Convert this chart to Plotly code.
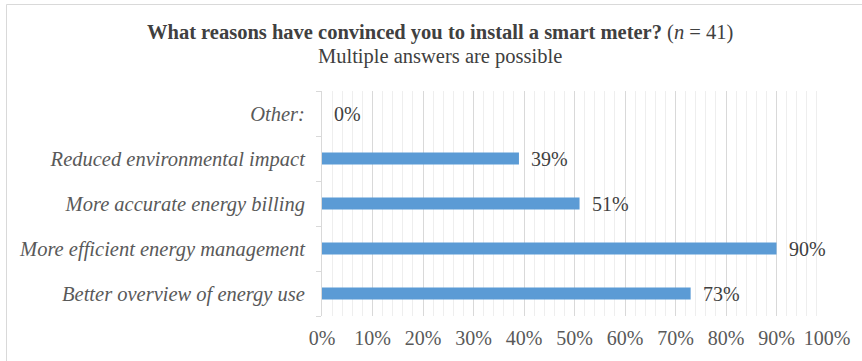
import plotly.graph_objects as go

# Survey answers (share of respondents, n = 41), bottom to top
categories = [
    "Better overview of energy use",
    "More efficient energy management",
    "More accurate energy billing",
    "Reduced environmental impact",
    "Other:",
]
shares = [0.73, 0.90, 0.51, 0.39, 0.0]
x_ticks = [i / 10 for i in range(11)]
x_tick_labels = [f"{i * 10}%" for i in range(11)]

FONT = "Times New Roman, Liberation Serif, serif"
BAR_COLOR = "#5B9BD5"
TEXT_COLOR = "#595959"

W, H = 862, 361
M_L, M_R, M_T, M_B = 322, 35, 91, 45
PW = W - M_L - M_R
PH = H - M_T - M_B


def px_to_paper_x(px):
    return (px - M_L) / PW


def px_to_paper_y(py):
    return (H - M_B - py) / PH


fig = go.Figure()
fig.add_trace(
    go.Bar(
        x=shares,
        y=categories,
        orientation="h",
        marker=dict(color=BAR_COLOR, line=dict(width=0)),
        width=0.27,
        hoverinfo="skip",
    )
)

# value labels to the right of each bar
for cat, val in zip(categories, shares):
    fig.add_annotation(
        x=val,
        y=cat,
        xref="x",
        yref="y",
        text=f"{val * 100:.0f}%",
        showarrow=False,
        xanchor="left",
        yanchor="middle",
        xshift=10,
        font=dict(family=FONT, size=20, color="#404040"),
    )

# chart heading
fig.add_annotation(
    x=px_to_paper_x(440),
    y=px_to_paper_y(32),
    xref="paper",
    yref="paper",
    text="<b>What reasons have convinced you to install a smart meter?</b> (<i>n</i> = 41)",
    showarrow=False,
    xanchor="center",
    yanchor="middle",
    font=dict(family=FONT, size=20.5, color="#404040"),
)
fig.add_annotation(
    x=px_to_paper_x(440),
    y=px_to_paper_y(56),
    xref="paper",
    yref="paper",
    text="Multiple answers are possible",
    showarrow=False,
    xanchor="center",
    yanchor="middle",
    font=dict(family=FONT, size=20.5, color="#404040"),
)

# outer chart frame
fig.add_shape(
    type="rect",
    xref="paper",
    yref="paper",
    x0=px_to_paper_x(6.5),
    x1=px_to_paper_x(W + 20),
    y0=px_to_paper_y(H + 20),
    y1=px_to_paper_y(4.5),
    line=dict(color="#d9d9d9", width=1),
    fillcolor="rgba(0,0,0,0)",
    layer="below",
)

fig.update_layout(
    width=W,
    height=H,
    margin=dict(l=M_L, r=M_R, t=M_T, b=M_B, autoexpand=False),
    paper_bgcolor="white",
    plot_bgcolor="white",
    showlegend=False,
    bargap=0.73,
    font=dict(family=FONT, color=TEXT_COLOR),
    xaxis=dict(
        range=[0, 1],
        tickvals=x_ticks,
        ticktext=x_tick_labels,
        tickfont=dict(family=FONT, size=20, color=TEXT_COLOR),
        showgrid=True,
        gridcolor="#d9d9d9",
        gridwidth=1,
        minor=dict(dtick=0.02, tick0=0, showgrid=True, gridcolor="#eeeeee", gridwidth=1),
        zeroline=False,
        showline=False,
        ticks="",
        ticklabelstandoff=8,
        fixedrange=True,
    ),
    yaxis=dict(
        categoryorder="array",
        categoryarray=categories,
        tickfont=dict(family=FONT, size=20.5, color=TEXT_COLOR, style="italic"),
        showgrid=False,
        zeroline=False,
        showline=True,
        linecolor="#d9d9d9",
        linewidth=1,
        ticks="outside",
        tickson="boundaries",
        ticklen=5,
        tickcolor="#d9d9d9",
        ticklabelstandoff=12,
        fixedrange=True,
    ),
)

fig.write_html("out.html")
